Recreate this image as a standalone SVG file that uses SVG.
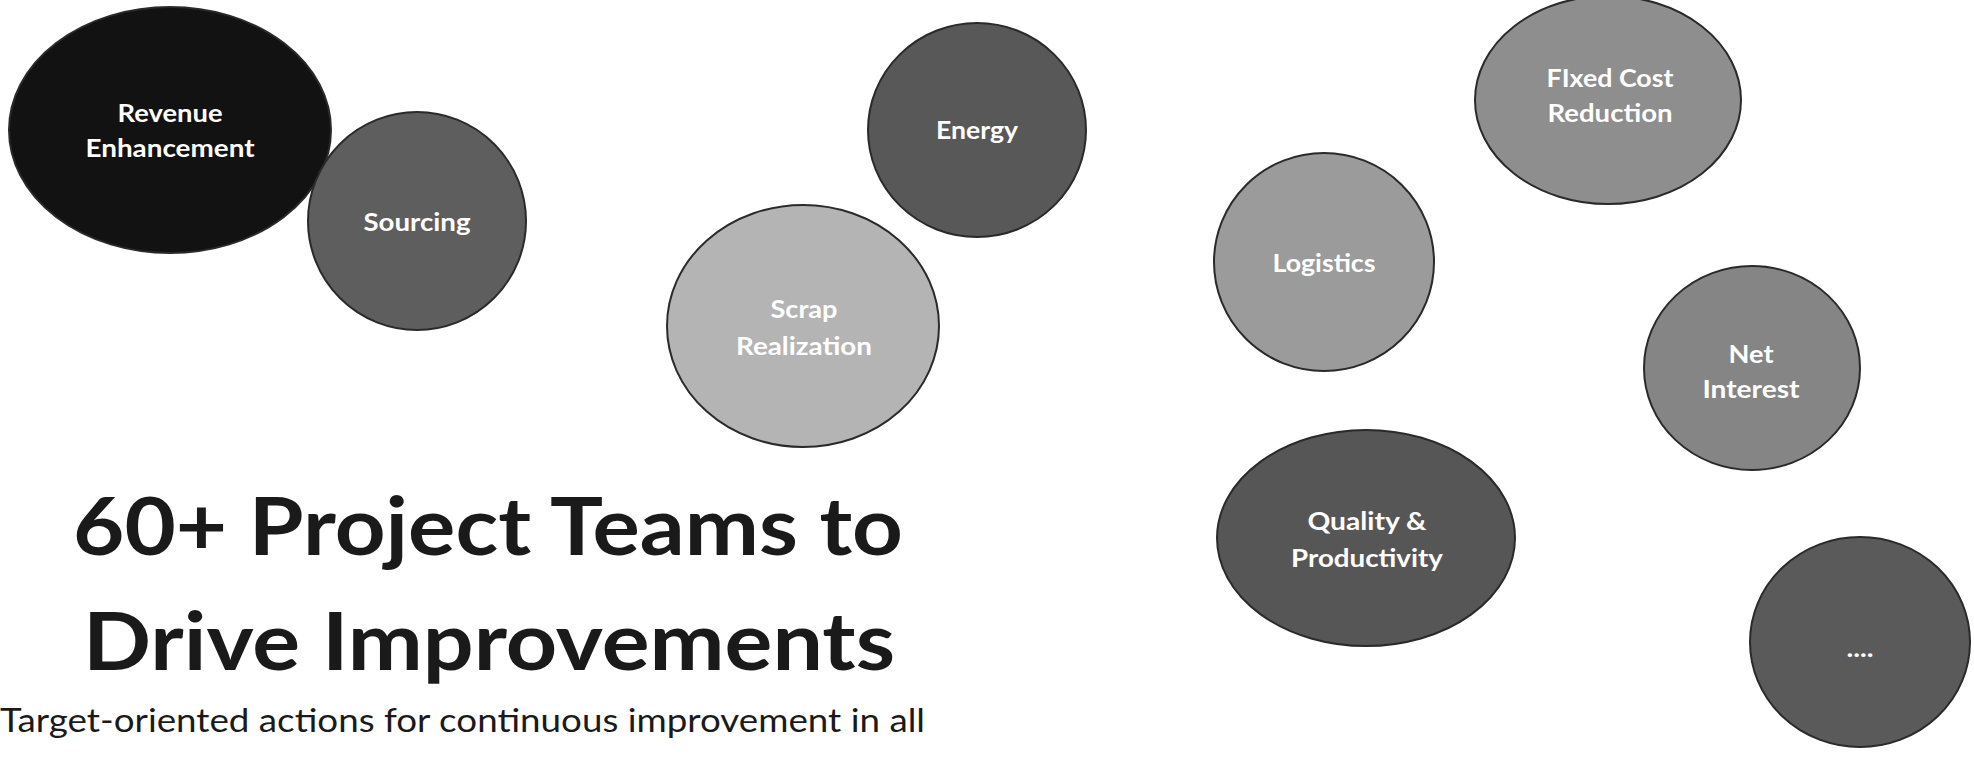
<svg xmlns="http://www.w3.org/2000/svg" width="1974" height="757" viewBox="0 0 1974 757">
  <style>
    .bubble { stroke: #2a2a2a; stroke-width: 2; }
    .lbl { font-family: Lato, "Open Sans", "Liberation Sans", sans-serif; font-weight: 700; font-size: 25px; fill: #ffffff; text-anchor: middle; }
    .title { font-family: Lato, "Open Sans", "Liberation Sans", sans-serif; font-weight: 700; font-size: 80px; fill: #1a1a1a; }
    .sub { font-family: Lato, "Open Sans", "Liberation Sans", sans-serif; font-weight: 400; font-size: 33px; fill: #1a1a1a; }
  </style>
  <rect width="1974" height="757" fill="#ffffff"/>

  <!-- team bubbles -->
  <g id="revenue-enhancement">
    <ellipse class="bubble" cx="170" cy="130" rx="161" ry="123" fill="#121212"/>
    <text class="lbl" x="170" y="122" textLength="105" lengthAdjust="spacingAndGlyphs">Revenue</text>
    <text class="lbl" x="170" y="157" textLength="169" lengthAdjust="spacingAndGlyphs">Enhancement</text>
  </g>
  <g id="sourcing">
    <ellipse class="bubble" cx="417" cy="221" rx="109" ry="109" fill="#5e5e5e"/>
    <text class="lbl" x="417" y="231" textLength="107" lengthAdjust="spacingAndGlyphs">Sourcing</text>
  </g>
  <g id="energy">
    <ellipse class="bubble" cx="977" cy="130" rx="109" ry="107" fill="#585858"/>
    <text class="lbl" x="977" y="139" textLength="82" lengthAdjust="spacingAndGlyphs">Energy</text>
  </g>
  <g id="scrap-realization">
    <ellipse class="bubble" cx="803" cy="326" rx="136" ry="121" fill="#b4b4b4"/>
    <text class="lbl" x="804" y="318" textLength="67" lengthAdjust="spacingAndGlyphs" fill="#f2f2f2">Scrap</text>
    <text class="lbl" x="804" y="355" textLength="136" lengthAdjust="spacingAndGlyphs" fill="#f2f2f2">Realization</text>
  </g>
  <g id="fixed-cost-reduction">
    <ellipse class="bubble" cx="1608" cy="100" rx="133" ry="104" fill="#8e8e8e"/>
    <text class="lbl" x="1610" y="87" textLength="127" lengthAdjust="spacingAndGlyphs">FIxed Cost</text>
    <text class="lbl" x="1610" y="122" textLength="125" lengthAdjust="spacingAndGlyphs">Reduction</text>
  </g>
  <g id="logistics">
    <ellipse class="bubble" cx="1324" cy="262" rx="110" ry="109" fill="#9b9b9b"/>
    <text class="lbl" x="1324" y="272" textLength="103" lengthAdjust="spacingAndGlyphs">Logistics</text>
  </g>
  <g id="net-interest">
    <ellipse class="bubble" cx="1752" cy="368" rx="108" ry="102" fill="#858585"/>
    <text class="lbl" x="1751" y="363" textLength="45" lengthAdjust="spacingAndGlyphs">Net</text>
    <text class="lbl" x="1751" y="398" textLength="97" lengthAdjust="spacingAndGlyphs">Interest</text>
  </g>
  <g id="quality-productivity">
    <ellipse class="bubble" cx="1366" cy="538" rx="149" ry="108" fill="#565656"/>
    <text class="lbl" x="1367" y="530" textLength="119" lengthAdjust="spacingAndGlyphs">Quality &amp;</text>
    <text class="lbl" x="1367" y="567" textLength="152" lengthAdjust="spacingAndGlyphs">Productivity</text>
  </g>
  <g id="more-teams">
    <ellipse class="bubble" cx="1860" cy="642" rx="110" ry="105" fill="#5a5a5a"/>
    <text class="lbl" x="1860" y="657" textLength="27" lengthAdjust="spacingAndGlyphs">....</text>
  </g>

  <!-- headline and subtitle -->
  <g id="headline">
    <text class="title" x="73" y="555" textLength="830" lengthAdjust="spacingAndGlyphs">60+ Project Teams to</text>
    <text class="title" x="83" y="670" textLength="812" lengthAdjust="spacingAndGlyphs">Drive Improvements</text>
    <text class="sub" x="0" y="732" textLength="925" lengthAdjust="spacingAndGlyphs">Target-oriented actions for continuous improvement in all</text>
  </g>
</svg>
